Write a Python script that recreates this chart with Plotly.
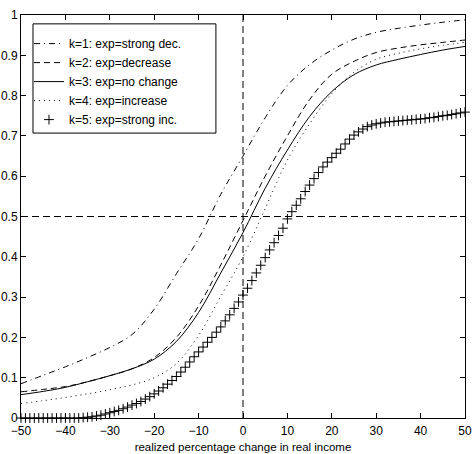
import plotly.graph_objects as go

# ---- data ----
x_grid = [-50, -45, -40, -35, -30, -25, -20, -15, -10, -5, 0, 5, 10, 15, 20, 25, 30, 35, 40, 45, 50]

k1_strong_dec = [0.085, 0.106, 0.127, 0.150, 0.175, 0.207, 0.270, 0.358, 0.445, 0.555, 0.650, 0.745, 0.825,
                 0.877, 0.913, 0.940, 0.957, 0.967, 0.975, 0.982, 0.988]
k2_decrease = [0.065, 0.071, 0.078, 0.090, 0.105, 0.122, 0.150, 0.200, 0.278, 0.380, 0.490, 0.600, 0.700,
               0.790, 0.853, 0.885, 0.907, 0.918, 0.926, 0.932, 0.938]
k3_no_change = [0.058, 0.066, 0.076, 0.090, 0.105, 0.122, 0.146, 0.190, 0.262, 0.360, 0.460, 0.570, 0.665,
                0.748, 0.810, 0.852, 0.876, 0.890, 0.902, 0.913, 0.922]
k4_increase = [0.036, 0.043, 0.051, 0.060, 0.070, 0.082, 0.100, 0.135, 0.205, 0.302, 0.400, 0.520, 0.640,
               0.730, 0.805, 0.858, 0.890, 0.905, 0.916, 0.925, 0.932]

x_int = list(range(-50, 51))
k5_strong_inc = [0.0] * 13 + [
    0.000, 0.001, 0.002, 0.003, 0.005, 0.007, 0.010, 0.013, 0.016, 0.019,   # -37..-28
    0.023, 0.027, 0.032, 0.036, 0.041, 0.047, 0.053, 0.060, 0.067, 0.075,   # -27..-18
    0.084, 0.093, 0.103, 0.114, 0.126, 0.139, 0.152, 0.164, 0.176, 0.188,   # -17..-8
    0.200, 0.213, 0.226, 0.241, 0.256, 0.272, 0.288, 0.305, 0.322, 0.341,   # -7..2
    0.360, 0.379, 0.398, 0.417, 0.435, 0.453, 0.471, 0.494, 0.512, 0.528,   # 3..12
    0.544, 0.562, 0.578, 0.594, 0.609, 0.623, 0.635, 0.646, 0.657, 0.667,   # 13..22
    0.680, 0.692, 0.702, 0.710, 0.717, 0.723, 0.727, 0.730, 0.732, 0.734,   # 23..32
    0.735, 0.736, 0.737, 0.738, 0.739, 0.740, 0.741, 0.742, 0.743, 0.745,   # 33..42
    0.746, 0.748, 0.750, 0.751, 0.753, 0.755, 0.757, 0.759,                 # 43..50
]

labels = ["k=1: exp=strong dec.", "k=2: exp=decrease", "k=3: exp=no change",
          "k=4: exp=increase", "k=5: exp=strong inc."]
x_ticks = [-50, -40, -30, -20, -10, 0, 10, 20, 30, 40, 50]
x_tick_text = ["\u221250", "\u221240", "\u221230", "\u221220", "\u221210", "0", "10", "20", "30", "40", "50"]
y_ticks = [0, 0.1, 0.2, 0.3, 0.4, 0.5, 0.6, 0.7, 0.8, 0.9, 1]
y_tick_text = ["0", "0.1", "0.2", "0.3", "0.4", "0.5", "0.6", "0.7", "0.8", "0.9", "1"]

FONT = "Liberation Sans, Arial, Helvetica, sans-serif"

fig = go.Figure()
line_styles = [
    (k1_strong_dec, "6px,4px,1px,4px"),
    (k2_decrease, "6px,4px"),
    (k3_no_change, "solid"),
    (k4_increase, "1px,4px"),
]
for (vals, dash), name in zip(line_styles, labels[:4]):
    fig.add_trace(go.Scatter(x=x_grid, y=vals, mode="lines", name=name,
                             line=dict(color="black", width=1, dash=dash, shape="spline")))
fig.add_trace(go.Scatter(x=x_int, y=k5_strong_inc, mode="markers", name=labels[4], cliponaxis=False,
                         marker=dict(symbol="cross-thin", size=7, color="black",
                                     line=dict(color="black", width=1))))

# reference lines
fig.add_hline(y=0.5, line=dict(color="black", width=1, dash="7px,4px"))
fig.add_vline(x=0, line=dict(color="black", width=1, dash="7px,4px"))

# legend frame (drawn as a box so its size matches the reference)
fig.add_shape(type="rect", xref="paper", yref="paper", x0=0.027, x1=0.439, y0=0.707, y1=0.978,
              line=dict(color="black", width=1), fillcolor="white", layer="below")

axis_common = dict(showgrid=False, zeroline=False, showline=True, linecolor="black", linewidth=1,
                   mirror="ticks", ticks="inside", ticklen=5, tickcolor="black", automargin=False,
                   ticklabeloverflow="allow",
                   tickfont=dict(family=FONT, size=12, color="black"))

fig.update_layout(
    width=472, height=454,
    margin=dict(l=21, r=7, t=15, b=36, autoexpand=False),
    paper_bgcolor="white", plot_bgcolor="white",
    font=dict(family=FONT, size=12, color="black"),
    xaxis=dict(range=[-50, 50], tickvals=x_ticks, ticktext=x_tick_text, ticklabelstandoff=2,
               title=dict(text="realized percentage change in real income", standoff=5,
                          font=dict(family=FONT, size=11.5, color="black")),
               **axis_common),
    yaxis=dict(range=[0, 1], tickvals=y_ticks, ticktext=y_tick_text, **axis_common),
    legend=dict(x=0.018, y=0.965, xanchor="left", yanchor="top", bgcolor="rgba(0,0,0,0)",
                borderwidth=0, font=dict(family=FONT, size=12, color="black"),
                tracegroupgap=0),
    showlegend=True,
)

fig.write_html("out.html")
